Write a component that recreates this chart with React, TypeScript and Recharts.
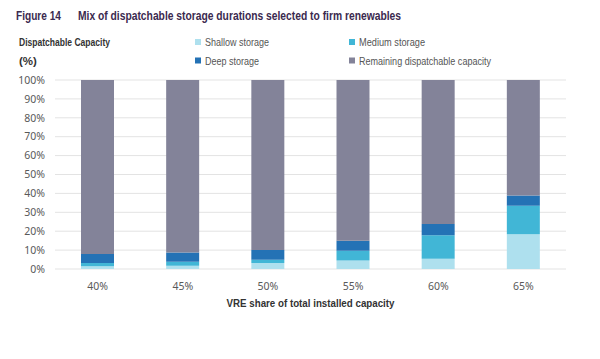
import React from 'react';
import { BarChart, Bar, XAxis, YAxis, CartesianGrid, Legend } from 'recharts';

const categories = ['40%', '45%', '50%', '55%', '60%', '65%'];
const shallow = [1.4, 1.7, 3.2, 4.5, 5.4, 18.4];
const medium = [1.8, 2.1, 1.7, 5.1, 12.5, 15.1];
const deep = [4.7, 4.9, 5.1, 5.3, 5.9, 5.4];
const remaining = [92.1, 91.3, 90.0, 85.1, 76.2, 61.1];
const yTicks = [0, 10, 20, 30, 40, 50, 60, 70, 80, 90, 100];

const data = categories.map((c, i) => ({
  cat: c,
  shallow: shallow[i],
  medium: medium[i],
  deep: deep[i],
  remaining: remaining[i],
}));

const COLORS = {
  shallow: '#aee0ee',
  medium: '#41b6d6',
  deep: '#2472b5',
  remaining: '#838399',
};

const FONT = "'Liberation Sans', Arial, sans-serif";
const SANS = "'Noto Sans', 'Open Sans', sans-serif";

const legendPos: Record<string, { x: number; y: number; w: number }> = {
  shallow: { x: 195, y: 42, w: 64 },
  medium: { x: 349, y: 42, w: 66 },
  deep: { x: 195, y: 60.5, w: 54 },
  remaining: { x: 349, y: 60.5, w: 132 },
};

const LegendContent = (props: any) => {
  const { payload } = props;
  return (
    <svg width={600} height={70} style={{ display: 'block' }}>
      {(payload || []).map((p: any) => {
        const pos = legendPos[p.dataKey];
        if (!pos) return null;
        return (
          <g key={p.dataKey}>
            <rect x={pos.x} y={pos.y - 3} width={6} height={6} fill={p.color} />
            <text
              x={pos.x + 10}
              y={pos.y + 4}
              fontFamily={FONT}
              fontSize={11}
              fill="#555555"
              textLength={pos.w}
              lengthAdjust="spacingAndGlyphs"
            >
              {p.value}
            </text>
          </g>
        );
      })}
    </svg>
  );
};

export default function App() {
  return (
    <div style={{ position: 'absolute', left: 0, top: 0, width: 600, height: 359, background: '#fff' }}>
      <BarChart
        width={600}
        height={359}
        data={data}
        margin={{ top: 80, right: 34, left: 0, bottom: 60 }}
        barCategoryGap={0}
      >
        <CartesianGrid vertical={false} stroke="#e3e3e3" strokeWidth={1} />
        <XAxis
          dataKey="cat"
          axisLine={false}
          tickLine={false}
          height={30}
          tickMargin={8}
          tick={{ fill: '#595959', fontSize: 10.5, fontFamily: SANS }}
        />
        <YAxis
          width={55}
          domain={[0, 100]}
          ticks={yTicks}
          interval={0}
          axisLine={false}
          tickLine={false}
          tickMargin={4}
          tickFormatter={(v: number) => `${v}%`}
          tick={{ fill: '#595959', fontSize: 10.5, fontFamily: SANS }}
        />
        <Legend
          layout="horizontal"
          verticalAlign="middle"
          align="center"
          wrapperStyle={{ position: 'absolute', left: 0, top: 0, width: 600, height: 70 }}
          content={<LegendContent />}
        />
        <Bar dataKey="shallow" name="Shallow storage" stackId="a" fill={COLORS.shallow} barSize={33} isAnimationActive={false} />
        <Bar dataKey="medium" name="Medium storage" stackId="a" fill={COLORS.medium} barSize={33} isAnimationActive={false} />
        <Bar dataKey="deep" name="Deep storage" stackId="a" fill={COLORS.deep} barSize={33} isAnimationActive={false} />
        <Bar dataKey="remaining" name="Remaining dispatchable capacity" stackId="a" fill={COLORS.remaining} barSize={33} isAnimationActive={false} />
      </BarChart>
      <svg
        width={600}
        height={359}
        style={{ position: 'absolute', left: 0, top: 0, pointerEvents: 'none' }}
      >
        <text x={16} y={19.5} fontFamily={FONT} fontWeight="bold" fontSize={12.5} fill="#3b2a4f" textLength={45} lengthAdjust="spacingAndGlyphs">
          Figure 14
        </text>
        <text x={78} y={19.5} fontFamily={FONT} fontWeight="bold" fontSize={12.5} fill="#3b2a4f" textLength={323} lengthAdjust="spacingAndGlyphs">
          Mix of dispatchable storage durations selected to firm renewables
        </text>
        <text x={19} y={46} fontFamily={FONT} fontWeight="bold" fontSize={11.5} fill="#333333" textLength={91} lengthAdjust="spacingAndGlyphs">
          Dispatchable Capacity
        </text>
        <text x={19} y={65} fontFamily={FONT} fontWeight="bold" fontSize={11.5} fill="#333333">
          (%)
        </text>
        <text x={310.5} y={307} textAnchor="middle" fontFamily={FONT} fontWeight="bold" fontSize={11.5} fill="#333333" textLength={168} lengthAdjust="spacingAndGlyphs">
          VRE share of total installed capacity
        </text>
      </svg>
    </div>
  );
}
